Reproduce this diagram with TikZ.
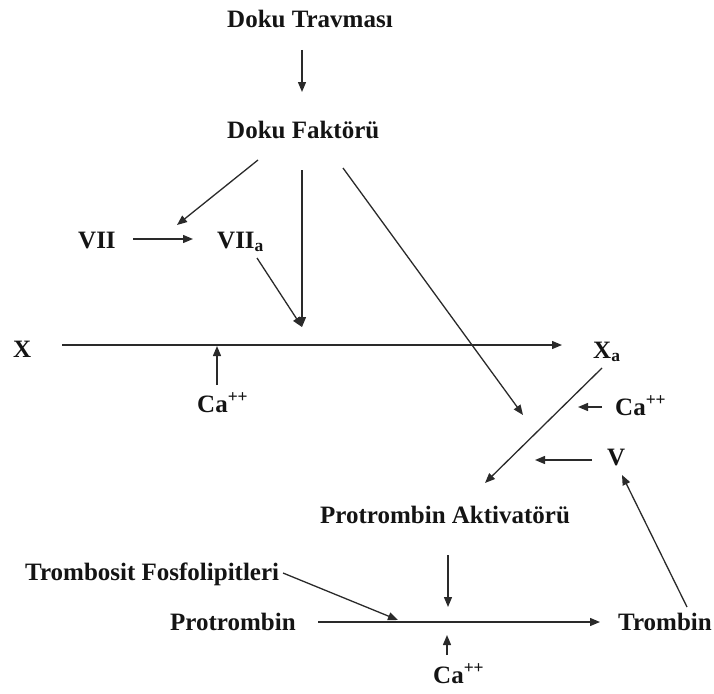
\documentclass[tikz,border=0pt]{standalone}
\usepackage{fontspec}
\setmainfont{Liberation Serif}
\usetikzlibrary{arrows.meta,calc}
\definecolor{ink}{HTML}{141414}
\definecolor{inksoft}{HTML}{2A2A2A}

\begin{document}
\begin{tikzpicture}[
  x=1pt, y=-1pt,
  font={\fontsize{25}{30}\selectfont\bfseries},
  >={Triangle[length=10pt,width=8pt]},
  factor/.style={text=ink, inner sep=0pt, anchor=base west},
  flow/.style={->, draw=inksoft, line width=1.3pt}
]
\useasboundingbox (0,0) rectangle (714,693);

\node[factor] (trauma) at (227,28) {Doku Travması};
\node[factor] (tissue) at (227,138) {Doku Faktörü};
\node[factor] (seven) at (78,248) {VII};
\node[factor] (sevena) at (217,248) {VII\textsubscript{a}};
\node[factor] (ten) at (13,357) {X};
\node[factor] (tena) at (593,358) {X\textsubscript{a}};
\node[factor] (calA) at (197,412) {Ca\textsuperscript{++}};
\node[factor] (calB) at (615,415) {Ca\textsuperscript{++}};
\node[factor] (five) at (607,465) {V};
\node[factor] (activator) at (320,523) {Protrombin Aktivatörü};
\node[factor] (platelet) at (25,580) {Trombosit Fosfolipitleri};
\node[factor] (prothrombin) at (170,630) {Protrombin};
\node[factor] (thrombin) at (618,630) {Trombin};
\node[factor] (calC) at (433,683) {Ca\textsuperscript{++}};

% meeting points that have no label of their own
\coordinate (tenjoin) at ($(sevena.base west)+(85,79)$);
\coordinate (tissueend) at ($(tissue.base west)+(296,277)$);

\draw[flow] ($(trauma.base west)+(75,22)$) -- ($(tissue.base west)+(75,-46)$);
\draw[flow] ($(tissue.base west)+(31,22)$) -- ($(sevena.base west)+(-40,-23)$);
\draw[flow] ($(tissue.base west)+(75,32)$) -- (tenjoin);
\draw[flow] ($(tissue.base west)+(116,30)$) -- (tissueend);
\draw[flow] ($(seven.base west)+(55,-9)$) -- ($(sevena.base west)+(-24,-9)$);
\draw[flow] ($(sevena.base west)+(40,10)$) -- (tenjoin);

\draw[flow] ($(ten.base west)+(49,-12)$) -- ($(tena.base west)+(-31,-13)$);
\draw[flow] ($(calA.base west)+(20,-27)$) -- ($(calA.base west)+(20,-66)$);

\draw[flow] ($(tena.base west)+(9,10)$) -- ($(activator.base west)+(165,-40)$);
\draw[flow] ($(calB.base west)+(-13,-8)$) -- ($(calB.base west)+(-37,-8)$);
\draw[flow] ($(five.base west)+(-15,-5)$) -- ($(five.base west)+(-72,-5)$);
\draw[flow] ($(thrombin.base west)+(69,-23)$) -- ($(five.base west)+(15,10)$);

\draw[flow] ($(activator.base west)+(128,32)$) -- ($(activator.base west)+(128,84)$);
\draw[flow] ($(prothrombin.base west)+(148,-8)$) -- ($(thrombin.base west)+(-18,-8)$);
\draw[flow] ($(platelet.base west)+(258,-7)$) -- ($(prothrombin.base west)+(228,-10)$);
\draw[flow] ($(calC.base west)+(14,-28)$) -- ($(calC.base west)+(14,-48)$);
\end{tikzpicture}
\end{document}
